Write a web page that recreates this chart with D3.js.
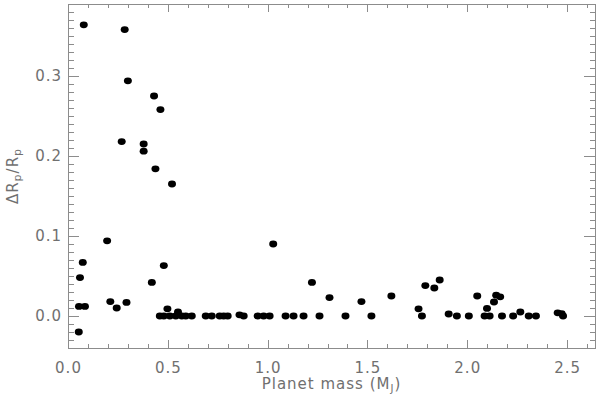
<!DOCTYPE html>
<html>
<head>
<meta charset="utf-8">
<script src="https://cdn.jsdelivr.net/npm/d3@7"></script>
<style>
  body { margin: 0; background: #fff; }
  .axis path, .axis line { stroke: #8c8c8c; shape-rendering: crispEdges; }
  .axis text { fill: #707070; font-family: "DejaVu Sans", sans-serif; font-size: 15px; letter-spacing: 1px; }
  .axisTitle { fill: #707070; font-family: "DejaVu Sans", sans-serif; font-size: 15px; letter-spacing: 1px; }
</style>
</head>
<body>
<div id="chart"></div>
<script>
// planet mass (M_J) and radius anomaly for each planet
const planetMass = [
  0.079, 0.284, 0.300, 0.431, 0.463, 0.269, 0.379, 0.379, 0.438, 0.521,
  0.196, 0.074, 0.060, 0.055, 0.085, 0.054, 0.212, 0.244, 0.293, 0.420,
  0.480, 0.498, 0.551,
  0.46, 0.48, 0.51, 0.54, 0.57, 0.59, 0.62, 0.69, 0.72, 0.76, 0.78, 0.80,
  0.88, 0.95, 0.98, 1.01, 1.09, 1.13, 1.18, 1.26, 1.39, 1.52, 0.859,
  1.028, 1.222, 1.31, 1.47, 1.62, 1.756, 1.773, 1.79, 1.835, 1.862,
  1.907, 1.948, 2.008, 2.05, 2.087, 2.112, 2.099, 2.134, 2.145, 2.165,
  2.174, 2.23, 2.266, 2.308, 2.344, 2.453, 2.473, 2.48
];
const deltaRadius = [
  0.364, 0.358, 0.294, 0.275, 0.258, 0.218, 0.215, 0.206, 0.184, 0.165,
  0.094, 0.067, 0.048, 0.012, 0.012, -0.020, 0.018, 0.010, 0.017, 0.042,
  0.063, 0.009, 0.005,
  0, 0, 0, 0, 0, 0, 0, 0, 0, 0, 0, 0,
  0, 0, 0, 0, 0, 0, 0, 0, 0, 0, 0.0015,
  0.090, 0.042, 0.023, 0.018, 0.025, 0.009, 0, 0.038, 0.035, 0.045,
  0.0025, 0, 0, 0.025, 0, 0, 0.0095, 0.0175, 0.026, 0.024,
  0, 0, 0.005, 0, 0, 0.004, 0.003, 0
];

// tick positions
const xMajorTicks = [0, 0.5, 1.0, 1.5, 2.0, 2.5];
const yMajorTicks = [0.0, 0.1, 0.2, 0.3];

const svgWidth = 600;
const svgHeight = 396;
const margin = { top: 4, right: 5, bottom: 48, left: 68 };
const width = svgWidth - margin.left - margin.right;
const height = svgHeight - margin.top - margin.bottom;

const svg = d3.select("#chart")
  .append("svg")
  .attr("width", svgWidth)
  .attr("height", svgHeight);

const chartGroup = svg.append("g")
  .attr("transform", `translate(${margin.left}, ${margin.top})`);

const xScale = d3.scaleLinear().domain([0, 2.64]).range([0, width]);
const yScale = d3.scaleLinear().domain([-0.04, 0.39]).range([height, 0]);

const xMinor = d3.range(0, 2.64, 0.1).filter(v => xMajorTicks.every(m => Math.abs(m - v) > 1e-6));
const yMinor = d3.range(-0.04, 0.39, 0.01).filter(v => yMajorTicks.every(m => Math.abs(m - v) > 1e-6));

const xMajLen = 8, xMinLen = 4, yMajLen = 11, yMinLen = 5.5;

// frame
chartGroup.append("rect")
  .attr("width", width)
  .attr("height", height)
  .attr("fill", "none")
  .attr("stroke", "#8c8c8c")
  .attr("shape-rendering", "crispEdges");

// bottom axis with labels
chartGroup.append("g").attr("class", "axis")
  .attr("transform", `translate(0, ${height})`)
  .call(d3.axisBottom(xScale).tickValues(xMajorTicks).tickSize(-xMajLen).tickPadding(14).tickFormat(d3.format(".1f")))
  .call(g => g.select(".domain").remove());
chartGroup.append("g").attr("class", "axis")
  .attr("transform", `translate(0, ${height})`)
  .call(d3.axisBottom(xScale).tickValues(xMinor).tickSize(-xMinLen).tickFormat(""))
  .call(g => g.select(".domain").remove());

// top mirror ticks
chartGroup.append("g").attr("class", "axis")
  .call(d3.axisTop(xScale).tickValues(xMajorTicks).tickSize(-xMajLen).tickFormat(""))
  .call(g => g.select(".domain").remove());
chartGroup.append("g").attr("class", "axis")
  .call(d3.axisTop(xScale).tickValues(xMinor).tickSize(-xMinLen).tickFormat(""))
  .call(g => g.select(".domain").remove());

// left axis with labels
chartGroup.append("g").attr("class", "axis")
  .call(d3.axisLeft(yScale).tickValues(yMajorTicks).tickSize(-yMajLen).tickPadding(6).tickFormat(d3.format(".1f")))
  .call(g => g.select(".domain").remove());
chartGroup.append("g").attr("class", "axis")
  .call(d3.axisLeft(yScale).tickValues(yMinor).tickSize(-yMinLen).tickFormat(""))
  .call(g => g.select(".domain").remove());

// right mirror ticks
chartGroup.append("g").attr("class", "axis")
  .attr("transform", `translate(${width}, 0)`)
  .call(d3.axisRight(yScale).tickValues(yMajorTicks).tickSize(-yMajLen).tickFormat(""))
  .call(g => g.select(".domain").remove());
chartGroup.append("g").attr("class", "axis")
  .attr("transform", `translate(${width}, 0)`)
  .call(d3.axisRight(yScale).tickValues(yMinor).tickSize(-yMinLen).tickFormat(""))
  .call(g => g.select(".domain").remove());

// points
chartGroup.selectAll("ellipse")
  .data(planetMass.map((m, i) => ({ mass: m, dr: deltaRadius[i] })))
  .enter()
  .append("ellipse")
  .attr("cx", d => xScale(d.mass))
  .attr("cy", d => yScale(d.dr))
  .attr("rx", 4)
  .attr("ry", 3.4)
  .attr("fill", "#000");

// x title
const xTitle = svg.append("text")
  .attr("class", "axisTitle")
  .attr("x", margin.left + width / 2)
  .attr("y", 389)
  .attr("text-anchor", "middle");
xTitle.append("tspan").text("Planet mass (M");
xTitle.append("tspan").attr("font-size", "10px").attr("dy", 3).text("J");
xTitle.append("tspan").attr("dy", -3).text(")");

// y title
const yTitle = svg.append("text")
  .attr("class", "axisTitle")
  .attr("transform", `translate(18, ${margin.top + height / 2}) rotate(-90)`)
  .attr("text-anchor", "middle");
yTitle.append("tspan").text("\u0394R");
yTitle.append("tspan").attr("font-size", "11px").attr("dy", 3).text("p");
yTitle.append("tspan").attr("dy", -3).text("/R");
yTitle.append("tspan").attr("font-size", "11px").attr("dy", 3).text("p");
</script>
</body>
</html>
